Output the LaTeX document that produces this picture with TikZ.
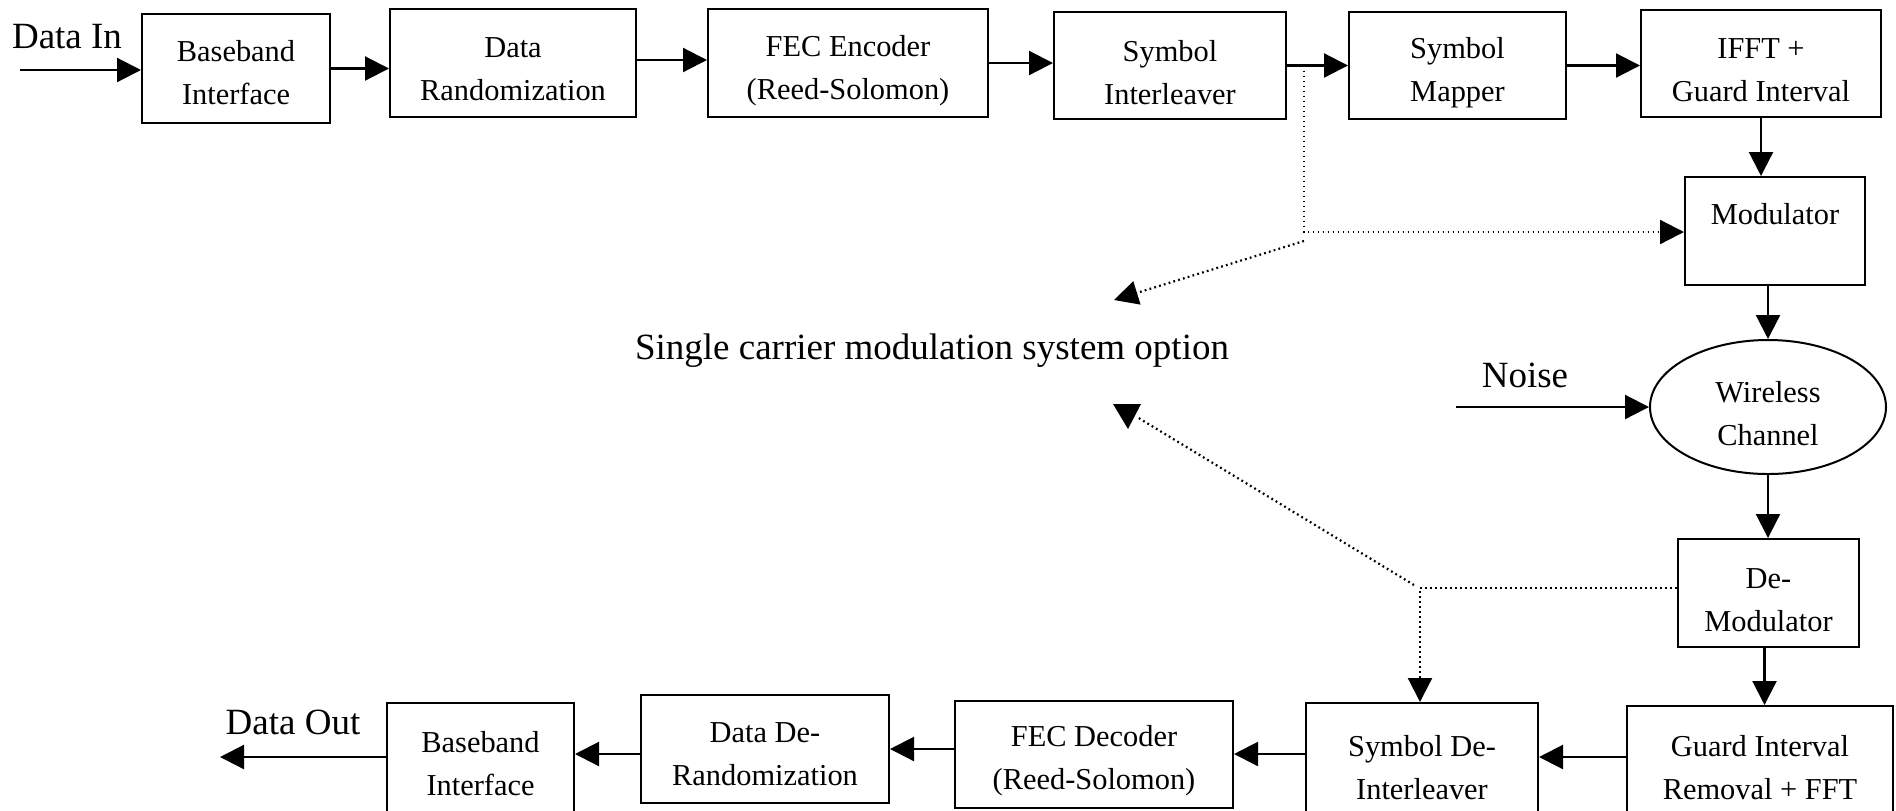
\documentclass[tikz,border=0pt]{standalone}
\usepackage{fontspec}
\setmainfont{Liberation Serif}
\usetikzlibrary{arrows.meta,calc,shapes.geometric}
\begin{document}
\begin{tikzpicture}[x=0.5pt,y=-0.5pt,
  sz/.style 2 args={minimum width=#1*0.5pt,minimum height=#2*0.5pt},
  box/.style={draw,line width=1pt,inner sep=0pt},
  txt/.style 2 args={label={[font=\fontsize{15.2}{21.5}\selectfont,align=center,inner sep=0pt,yshift=#1]center:#2}},
  lbl/.style={font=\fontsize{18.5}{22}\selectfont,inner sep=0pt},
  arr/.style={line width=1.1pt,-{Triangle[length=12pt,width=12pt]}},
  dotarr/.style={line width=1.1pt,dash pattern=on 0.9pt off 1.6pt,-{Triangle[length=12pt,width=12pt]}},
  dotln/.style={line width=1.1pt,dash pattern=on 0.9pt off 1.6pt}]
\clip (0,0) rectangle (1896,810);
\useasboundingbox (0,0) rectangle (1896,810);

% transmitter chain
\node[box,sz={188}{109},txt={-2.25pt}{Baseband\\Interface}] (bbi) at (236,68.5) {};
\node[box,sz={246}{108},txt={-3.25pt}{Data\\Randomization}] (drand) at (513,63) {};
\node[box,sz={280}{108},txt={-3.75pt}{FEC Encoder\\(Reed-Solomon)}] (fece) at (848,63) {};
\node[box,sz={232}{107},txt={-3.75pt}{Symbol\\Interleaver}] (sint) at (1170,65.5) {};
\node[box,sz={217}{107},txt={-3.75pt}{Symbol\\Mapper}] (smap) at (1457.5,65.5) {};
\node[box,sz={240}{107},txt={-3.25pt}{IFFT +\\Guard Interval}] (ifft) at (1761,63.5) {};
\node[box,sz={180}{108},txt={8.5pt}{Modulator}] (mod) at (1775,231) {};
\node[box,ellipse,sz={236}{134},txt={-3.25pt}{Wireless\\Channel}] (chan) at (1768,407) {};
\node[box,sz={181}{108},txt={-3.5pt}{De-\\Modulator}] (demod) at (1768.5,593) {};
% receiver chain
\node[box,sz={266}{124},txt={0pt}{Guard Interval\\Removal + FFT}] (gifft) at (1760,768) {};
\node[box,sz={232}{129},txt={0pt}{Symbol De-\\Interleaver}] (sdi) at (1422,767.5) {};
\node[box,sz={278}{107},txt={-3pt}{FEC Decoder\\(Reed-Solomon)}] (fecd) at (1094,754.5) {};
\node[box,sz={248}{108},txt={-2.5pt}{Data De-\\Randomization}] (ddr) at (765,749) {};
\node[box,sz={187}{125},txt={1pt}{Baseband\\Interface}] (bbo) at (480.5,765.5) {};

% labels
\node[lbl] (din) at (67,37) {Data In};
\node[lbl] (noise) at (1525,375) {Noise};
\node[lbl] (opt) at (932,351) {Single carrier modulation system option};
\node[lbl] (dout) at (293,722) {Data Out};

% free ends
\coordinate (inS) at (20,70);
\coordinate (nzS) at (1456,407);
\coordinate (outE) at (220,757);
\coordinate (j1) at (1304,65.5);
\coordinate (c1) at (1304,232);
\coordinate (d1s) at (1304,241);
\coordinate (d1e) at (1114,300);
\coordinate (c2) at (1420,588);
\coordinate (d2s) at (1414,585);
\coordinate (d2e) at (1137,417);

% solid connectors
\draw[arr] (inS) -- (inS -| bbi.west);
\draw[arr] (bbi.east) -- (bbi.east -| drand.west);
\draw[arr] ([yshift=1.5pt]drand.east) -- ([yshift=1.5pt]drand.east -| fece.west);
\draw[arr] (fece.east) -- (fece.east -| sint.west);
\draw[arr] (sint.east) -- (sint.east -| smap.west);
\draw[arr] (smap.east) -- (smap.east -| ifft.west);
\draw[arr] (ifft.south) -- (ifft.south |- mod.north);
\draw[arr] (chan.north |- mod.south) -- (chan.north);
\draw[arr] (nzS) -- (chan.west);
\draw[arr] (chan.south) -- (chan.south |- demod.north);
\draw[arr] ([xshift=-2pt]demod.south) -- ([xshift=-2pt]demod.south |- gifft.north);
\draw[arr] ([yshift=5.5pt]gifft.west) -- ([yshift=5.5pt]gifft.west -| sdi.east);
\draw[arr] ([yshift=6.75pt]sdi.west) -- ([yshift=6.75pt]sdi.west -| fecd.east);
\draw[arr] ([yshift=2.75pt]fecd.west) -- ([yshift=2.75pt]fecd.west -| ddr.east);
\draw[arr] ([yshift=-2.5pt]ddr.west) -- ([yshift=-2.5pt]ddr.west -| bbo.east);
\draw[arr] (outE -| bbo.west) -- (outE);

% dotted single-carrier option connectors
\draw[dotarr] (j1) -- (c1) -- (c1 -| mod.west);
\draw[dotarr] (d1s) -- (d1e);
\draw[dotarr] (c2 -| demod.west) -- (c2) -- (c2 |- sdi.north);
\draw[dotln] (d2s) -- (d2e);
\fill (1113,404) -- (1141,404) -- (1128,429) -- cycle;
\end{tikzpicture}
\end{document}
